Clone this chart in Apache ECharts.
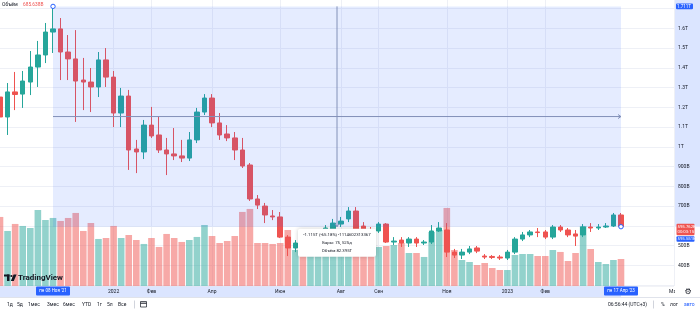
<!DOCTYPE html>
<html>
<head>
<meta charset="utf-8">
<script src="https://cdn.jsdelivr.net/npm/echarts@6/dist/echarts.min.js"></script>
<style>
html, body { margin: 0; padding: 0; background: #fff; }
#main { width: 700px; height: 312px; }
</style>
</head>
<body>
<div id="main"></div>
<script>
// недельные бары
var weeks = [
  '2021-09-20','2021-09-27','2021-10-04','2021-10-11','2021-10-18','2021-10-25','2021-11-01','2021-11-08',
  '2021-11-15','2021-11-22','2021-11-29','2021-12-06','2021-12-13','2021-12-20','2021-12-27',
  '2022-01-03','2022-01-10','2022-01-17','2022-01-24','2022-01-31','2022-02-07','2022-02-14','2022-02-21',
  '2022-02-28','2022-03-07','2022-03-14','2022-03-21','2022-03-28','2022-04-04','2022-04-11','2022-04-18',
  '2022-04-25','2022-05-02','2022-05-09','2022-05-16','2022-05-23','2022-05-30','2022-06-06','2022-06-13',
  '2022-06-20','2022-06-27','2022-07-04','2022-07-11','2022-07-18','2022-07-25','2022-08-01','2022-08-08',
  '2022-08-15','2022-08-22','2022-08-29','2022-09-05','2022-09-12','2022-09-19','2022-09-26','2022-10-03',
  '2022-10-10','2022-10-17','2022-10-24','2022-10-31','2022-11-07','2022-11-14','2022-11-21','2022-11-28',
  '2022-12-05','2022-12-12','2022-12-19','2022-12-26','2023-01-02','2023-01-09','2023-01-16','2023-01-23',
  '2023-01-30','2023-02-06','2023-02-13','2023-02-20','2023-02-27','2023-03-06','2023-03-13','2023-03-20',
  '2023-03-27','2023-04-03','2023-04-10','2023-04-17'
]
// пустое место справа
var futureWeeks = ['2023-04-24','2023-05-01','2023-05-08','2023-05-15','2023-05-22','2023-05-29','2023-06-05']

// цены, млрд
var opens = [1252,1151,1278,1267,1328,1404,1465,1581,1597,1480,1445,1338,1328,1303,1440,1353,1171,1257,989,974,
  1110,1060,984,964,954,943,1035,1176,1247,1121,1065,1045,984,908,736,700,650,645,543,488,
  513,498,528,569,584,609,635,675,599,581,574,609,518,528,513,533,513,518,574,579,
  467,452,467,488,447,445,442,437,467,533,554,569,569,543,594,579,559,554,594,589,
  594,599,655]
var closes = [1151,1278,1265,1333,1404,1465,1581,1597,1480,1445,1333,1328,1303,1440,1353,1171,1257,984,974,1110,
  1055,984,964,954,943,1035,1176,1247,1121,1060,1045,984,903,736,705,655,645,543,488,513,
  498,528,559,589,614,624,675,579,574,574,609,518,523,513,533,513,518,574,589,467,
  452,467,483,472,442,440,437,467,533,554,569,566,543,594,579,554,548,594,589,594,
  599,655,595.762]
var lows = [1019,1060,1186,1197,1262,1303,1424,1475,1338,1338,1126,1186,1176,1252,1303,1100,1100,883,867,938,
  1045,969,857,933,923,928,1019,1161,1100,1035,1029,933,893,726,685,614,629,538,447,467,
  478,483,513,548,569,594,619,564,559,559,564,513,503,493,493,493,503,508,569,442,
  437,432,457,462,432,432,427,427,457,523,543,543,533,533,569,543,498,543,569,579,
  589,594,595.551]
var highs = [1272,1323,1379,1384,1485,1536,1627,1711,1652,1566,1591,1450,1399,1480,1500,1384,1298,1288,1035,1136,
  1202,1151,1045,1095,1035,1075,1197,1267,1267,1171,1110,1075,1045,918,756,716,680,670,553,528,
  533,543,574,604,635,645,695,695,619,594,619,614,543,543,543,543,528,604,619,614,
  483,483,498,498,457,452,452,478,543,569,579,589,579,604,604,589,579,609,614,609,
  614,665,665]
// объём, млрд
var volumes = [1753,1397,1575,1524,1473,1930,1676,1727,1651,1727,1854,1397,1600,1194,1219,1524,1219,1295,1168,1067,
  1219,991,1321,1219,1118,1168,1245,1549,1270,1092,1143,1270,1880,1956,1092,1092,1067,1092,1422,914,
  1041,1168,1219,1118,1346,1245,1168,1270,1143,1016,991,1016,1041,1092,838,838,737,1372,1422,1981,
  914,660,610,533,584,457,406,406,787,813,813,762,762,914,864,635,838,1524,940,610,
  559,660,685.638]

// подписи оси времени
var monthIdx = [15,20,28,37,45,50,59,67,72,89]
var monthText = ['2022','Фев','Апр','Июн','Авг','Сен','Ноя','2023','Фев','Май']

var startIdx = 7
var endIdx = 82

var upColor = '#26a69a'
var downColor = '#ef5350'
var volUp = 'rgba(38,166,154,0.5)'
var volDown = 'rgba(239,83,80,0.5)'
var blue = '#2962ff'
var font = 'Roboto, "Noto Sans", sans-serif'

var cats = weeks.concat(futureWeeks)
var candleData = []
var volData = []
for (var i = 0; i < opens.length; i++) {
  candleData.push([opens[i], closes[i], lows[i], highs[i]])
  volData.push({
    value: volumes[i],
    itemStyle: { color: closes[i] >= opens[i] ? volUp : volDown }
  })
}

var isMonth = function(i) { return monthIdx.indexOf(i) >= 0 }

var fmtPrice = function(v) {
  if (v === 300 || v === 600 || v === 1700) return ''
  return v >= 1000 ? (v / 1000) + 'T' : v + 'B'
}

var chart = echarts.init(document.getElementById('main'))
chart.setOption({
  animation: false,
  grid: [
    { left: 0, right: 26, top: 8.55, bottom: 26.9 },
    { left: 0, right: 26, top: 0, bottom: 26 }
  ],
  xAxis: [
    { type: 'category', gridIndex: 0, data: cats, boundaryGap: false, show: false },
    {
      type: 'category', gridIndex: 1, data: cats, boundaryGap: false,
      axisLine: { show: false },
      axisTick: { show: false },
      axisLabel: {
        interval: isMonth,
        formatter: function(v, i) {
          var k = monthIdx.indexOf(i)
          return k >= 0 ? monthText[k] : ''
        },
        fontSize: 5, color: '#131722', margin: 3, fontFamily: font
      },
      splitLine: { show: true, interval: isMonth, lineStyle: { color: '#eef0f6', width: 1 } }
    }
  ],
  yAxis: [
    {
      type: 'value', gridIndex: 0, position: 'right',
      min: 300, max: 1700, interval: 100,
      axisLine: { show: false },
      axisTick: { show: false },
      axisLabel: { formatter: fmtPrice, fontSize: 5, color: '#131722', margin: 4, fontFamily: font },
      splitLine: { lineStyle: { color: '#eef0f6', width: 1 } }
    },
    { type: 'value', gridIndex: 1, min: 0, max: 7260, show: false, splitLine: { show: false } }
  ],
  series: [
    {
      type: 'bar', xAxisIndex: 1, yAxisIndex: 1,
      data: volData, barWidth: 6.6, z: 1
    },
    {
      type: 'candlestick', xAxisIndex: 0, yAxisIndex: 0,
      data: candleData, barWidth: 5, clip: false, z: 3,
      itemStyle: {
        color: upColor, color0: downColor,
        borderColor: upColor, borderColor0: downColor, borderWidth: 1
      }
    }
  ]
})

// инструмент "диапазон дат и цен"
var a = chart.convertToPixel({ gridIndex: 0 }, [startIdx, highs[startIdx]])
var b = chart.convertToPixel({ gridIndex: 0 }, [endIdx, lows[endIdx]])
var c = chart.convertToPixel({ gridIndex: 0 }, [endIdx, closes[endIdx]])
var xm = (a[0] + b[0]) / 2
var ym = (a[1] + b[1]) / 2
var axisX = 674
var axisY = 286

var txt = function(t, x, y, size, color, align, weight, z) {
  return {
    type: 'text', z: z || 60,
    style: {
      text: t, x: x, y: y, fill: color || '#131722',
      font: (weight || 'normal') + ' ' + size + 'px ' + font,
      textAlign: align || 'left', align: align || 'left',
      textVerticalAlign: 'middle', verticalAlign: 'middle'
    }
  }
}
var box = function(x, y, w, h, fill, z) {
  return { type: 'rect', z: z || 59, shape: { x: x, y: y, width: w, height: h, r: 1 }, style: { fill: fill } }
}
var line = function(pts, color, z) {
  return { type: 'polyline', z: z || 51, shape: { points: pts }, style: { stroke: color, lineWidth: 1, fill: null } }
}

var els = [
  // подсветка на осях
  { type: 'rect', z: -1, shape: { x: axisX, y: 0, width: 26, height: b[1] }, style: { fill: 'rgba(41,98,255,0.17)' } },
  { type: 'rect', z: -1, shape: { x: 0, y: axisY, width: b[0], height: 11 }, style: { fill: 'rgba(41,98,255,0.17)' } },
  line([[0, axisY], [axisX, axisY]], '#e6e8ef', -1),
  line([[axisX + 0.5, 0], [axisX + 0.5, axisY]], '#e6e8ef', -1),
  line([[0, 297.5], [700, 297.5]], '#e0e3eb', 5),
  // область выделения
  { type: 'rect', z: 50, shape: { x: a[0], y: a[1], width: b[0] - a[0], height: b[1] - a[1] }, style: { fill: 'rgba(41,98,255,0.12)' } },
  line([[xm, a[1]], [xm, b[1]]], '#8290b8'),
  line([[xm - 2, b[1] - 3], [xm, b[1]], [xm + 2, b[1] - 3]], '#8290b8'),
  line([[a[0], ym], [b[0], ym]], '#8290b8'),
  line([[b[0] - 3, ym - 2], [b[0], ym], [b[0] - 3, ym + 2]], '#8290b8'),
  { type: 'circle', z: 52, shape: { cx: a[0], cy: a[1], r: 2.2 }, style: { fill: '#fff', stroke: blue, lineWidth: 1 } },
  { type: 'circle', z: 52, shape: { cx: b[0], cy: b[1], r: 2.2 }, style: { fill: '#fff', stroke: blue, lineWidth: 1 } },
  // подпись инструмента
  { type: 'rect', z: 53, shape: { x: xm - 39, y: b[1] + 2, width: 78, height: 28, r: 2 },
    style: { fill: '#fff', shadowBlur: 4, shadowColor: 'rgba(0,0,0,0.2)' } },
  txt('-1.115T (-65.18%) -1114602313367', xm, b[1] + 8, 4.3, '#131722', 'center', 'normal', 54),
  txt('Бары: 75, 525д', xm, b[1] + 16, 4.3, '#131722', 'center', 'normal', 54),
  txt('Объём 82.395T', xm, b[1] + 24, 4.3, '#131722', 'center', 'normal', 54),
  // метки цены
  box(axisX + 2, a[1] - 2.8, 17, 5.6, blue),
  txt('1.711T', axisX + 3, a[1], 4.5, '#fff'),
  box(axisX + 2.5, c[1] - 3, 18, 11.5, downColor),
  txt('595.762B', axisX + 3.5, c[1], 4.3, '#fff'),
  txt('00:03:15', axisX + 3.5, c[1] + 5.5, 4.3, '#fff'),
  box(axisX + 2.5, c[1] + 9.5, 18, 5.5, blue),
  txt('595.551B', axisX + 3.5, c[1] + 12.2, 4.3, '#fff'),
  // метки дат
  box(a[0] - 17, axisY + 0.5, 34, 9, blue),
  txt("пн 08 Ноя '21", a[0], axisY + 5, 4.5, '#fff', 'center'),
  box(b[0] - 17, axisY + 0.5, 34, 9, blue),
  txt("пн 17 Апр '23", b[0], axisY + 5, 4.5, '#fff', 'center'),
  { type: 'rect', z: 20, shape: { x: axisX + 1, y: axisY + 0.5, width: 25, height: 10.5 }, style: { fill: '#fff' } },
  { type: 'text', z: 21, style: { text: '⚙', x: 688, y: 291.5, fill: '#131722', font: '8px "DejaVu Sans"',
    textAlign: 'center', align: 'center', textVerticalAlign: 'middle', verticalAlign: 'middle' } },
  // легенда
  txt('Объём', 2, 5, 5, '#131722'),
  txt('685.638B', 23, 5, 4.8, downColor),
  // логотип
  { type: 'rect', z: 30, shape: { x: 4, y: 274.5, width: 5.5, height: 2 }, style: { fill: '#131722' } },
  { type: 'rect', z: 30, shape: { x: 7, y: 274.5, width: 2.5, height: 6.5 }, style: { fill: '#131722' } },
  { type: 'circle', z: 30, shape: { cx: 11.4, cy: 276, r: 1.1 }, style: { fill: '#131722' } },
  { type: 'polygon', z: 30, shape: { points: [[13.6, 274.5], [16.6, 274.5], [13.8, 281], [10.8, 281]] }, style: { fill: '#131722' } },
  txt('TradingView', 18, 277.8, 8, '#131722', 'left', 'bold', 30),
  // нижняя панель
  txt('1д', 7, 304.5, 5), txt('5д', 17, 304.5, 5), txt('1мес', 28, 304.5, 5),
  txt('3мес', 47, 304.5, 5), txt('6мес', 63, 304.5, 5), txt('YTD', 82, 304.5, 5),
  txt('1г', 97, 304.5, 5), txt('5л', 107, 304.5, 5), txt('Все', 118, 304.5, 5),
  line([[134.5, 300.5], [134.5, 308.5]], '#d1d4dc', 60),
  { type: 'rect', z: 60, shape: { x: 140.5, y: 301.5, width: 6, height: 5.5 }, style: { fill: null, stroke: '#131722', lineWidth: 0.7 } },
  line([[140.5, 303.2], [146.5, 303.2]], '#131722', 60),
  txt('06:56:44 (UTC+3)', 608, 304.5, 5),
  line([[653.5, 300.5], [653.5, 308.5]], '#d1d4dc', 60),
  txt('%', 661, 304.5, 5), txt('лог', 670, 304.5, 5), txt('авто', 684, 304.5, 5, blue)
]

chart.setOption({ graphic: { elements: els } })
</script>
</body>
</html>
